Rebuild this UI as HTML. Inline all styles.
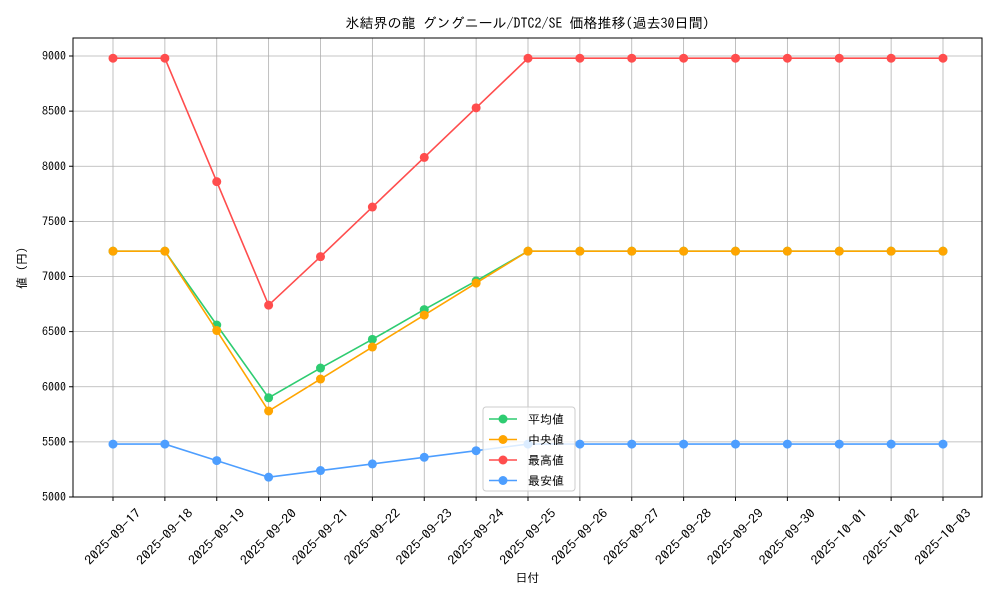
<!DOCTYPE html>
<html><head><meta charset="utf-8"><style>
body{margin:0;background:#fff;}
svg{display:block;font-family:"IPAGothic","Noto Sans CJK JP",sans-serif;}
</style></head><body>
<svg id="c" width="1000" height="600"></svg>
<script>
const dates=["2025-09-17","2025-09-18","2025-09-19","2025-09-20","2025-09-21","2025-09-22","2025-09-23","2025-09-24","2025-09-25","2025-09-26","2025-09-27","2025-09-28","2025-09-29","2025-09-30","2025-10-01","2025-10-02","2025-10-03"];
const avgVals=[7230,7230,6560,5900,6170,6430,6700,6960,7230,7230,7230,7230,7230,7230,7230,7230,7230];
const medVals=[7230,7230,6510,5780,6070,6360,6650,6940,7230,7230,7230,7230,7230,7230,7230,7230,7230];
const maxVals=[8980,8980,7860,6740,7180,7630,8080,8530,8980,8980,8980,8980,8980,8980,8980,8980,8980];
const minVals=[5480,5480,5330,5180,5240,5300,5360,5420,5480,5480,5480,5480,5480,5480,5480,5480,5480];
const yTicks=[5000,5500,6000,6500,7000,7500,8000,8500,9000];
const seriesNames=["平均値","中央値","最高値","最安値"];
const svg=document.getElementById('c');const NS="http://www.w3.org/2000/svg";
function mk(t,a,p){const e=document.createElementNS(NS,t);for(const k in a)e.setAttribute(k,a[k]);(p||svg).appendChild(e);return e;}
const L=73,R=982,T=38,B=497;
const x=i=>113+i*(943-113)/(dates.length-1);
const y=v=>497-(v-5000)*(441/4000);
mk('rect',{x:L,y:T,width:R-L,height:B-T,fill:'#fff'});
const grid=mk('g',{});
dates.forEach((d,i)=>{mk('line',{x1:x(i),x2:x(i),y1:T,y2:B,stroke:'#b0b0b0','stroke-width':0.8},grid);
 mk('line',{x1:x(i),x2:x(i),y1:B,y2:B+4,stroke:'#000'});
 const t=mk('text',{x:0,y:0,'font-size':12.5,'text-anchor':'middle',textLength:73,lengthAdjust:'spacingAndGlyphs',transform:`translate(${x(i)},${B+40}) rotate(-45)`,dy:4});t.textContent=d;
 });
yTicks.forEach(v=>{mk('line',{x1:L,x2:R,y1:y(v),y2:y(v),stroke:'#b0b0b0','stroke-width':0.8},grid);
 mk('line',{x1:L-4,x2:L,y1:y(v),y2:y(v),stroke:'#000'});
 const t=mk('text',{x:L-7,y:y(v)+4,'font-size':12,'text-anchor':'end'});t.textContent=v;
 });
const colors=['#2ecc71','#ffa500','#ff4d4d','#4d9eff'];
const series=[avgVals,medVals,maxVals,minVals];
series.forEach((s,k)=>{const g=mk('g',{});
 mk('polyline',{points:s.map((v,i)=>x(i)+','+y(v)).join(' '),fill:'none',stroke:colors[k],'stroke-width':1.6},g);
 s.forEach((v,i)=>{const c=mk('circle',{cx:x(i),cy:y(v),r:4.5,fill:colors[k]},g);});});
mk('rect',{x:L,y:T,width:R-L,height:B-T,fill:'none',stroke:'#000','stroke-width':1});
const title=mk('text',{x:(L+R)/2,y:28,'font-size':14,'text-anchor':'middle'});title.textContent='氷結界の龍 グングニール/DTC2/SE 価格推移(過去30日間)';

const xt=mk('text',{x:(L+R)/2,y:582,'font-size':12,'text-anchor':'middle'});xt.textContent='日付';

const yt=mk('text',{x:0,y:0,'font-size':12,'text-anchor':'middle',transform:'translate(26,268) rotate(-90)'});yt.textContent='値 (円)';

const lg=mk('g',{});
mk('rect',{x:483,y:407,width:92,height:84,rx:3,fill:'#fff','fill-opacity':0.8,stroke:'#ccc'},lg);
seriesNames.forEach((n,k)=>{const yy=419+k*20.5;
 mk('line',{x1:489,x2:517,y1:yy,y2:yy,stroke:colors[k],'stroke-width':1.6},lg);
 mk('circle',{cx:503,cy:yy,r:4.5,fill:colors[k]},lg);
 const t=mk('text',{x:528,y:yy+4.5,'font-size':12},lg);t.textContent=n;
 });
</script>
</body></html>
